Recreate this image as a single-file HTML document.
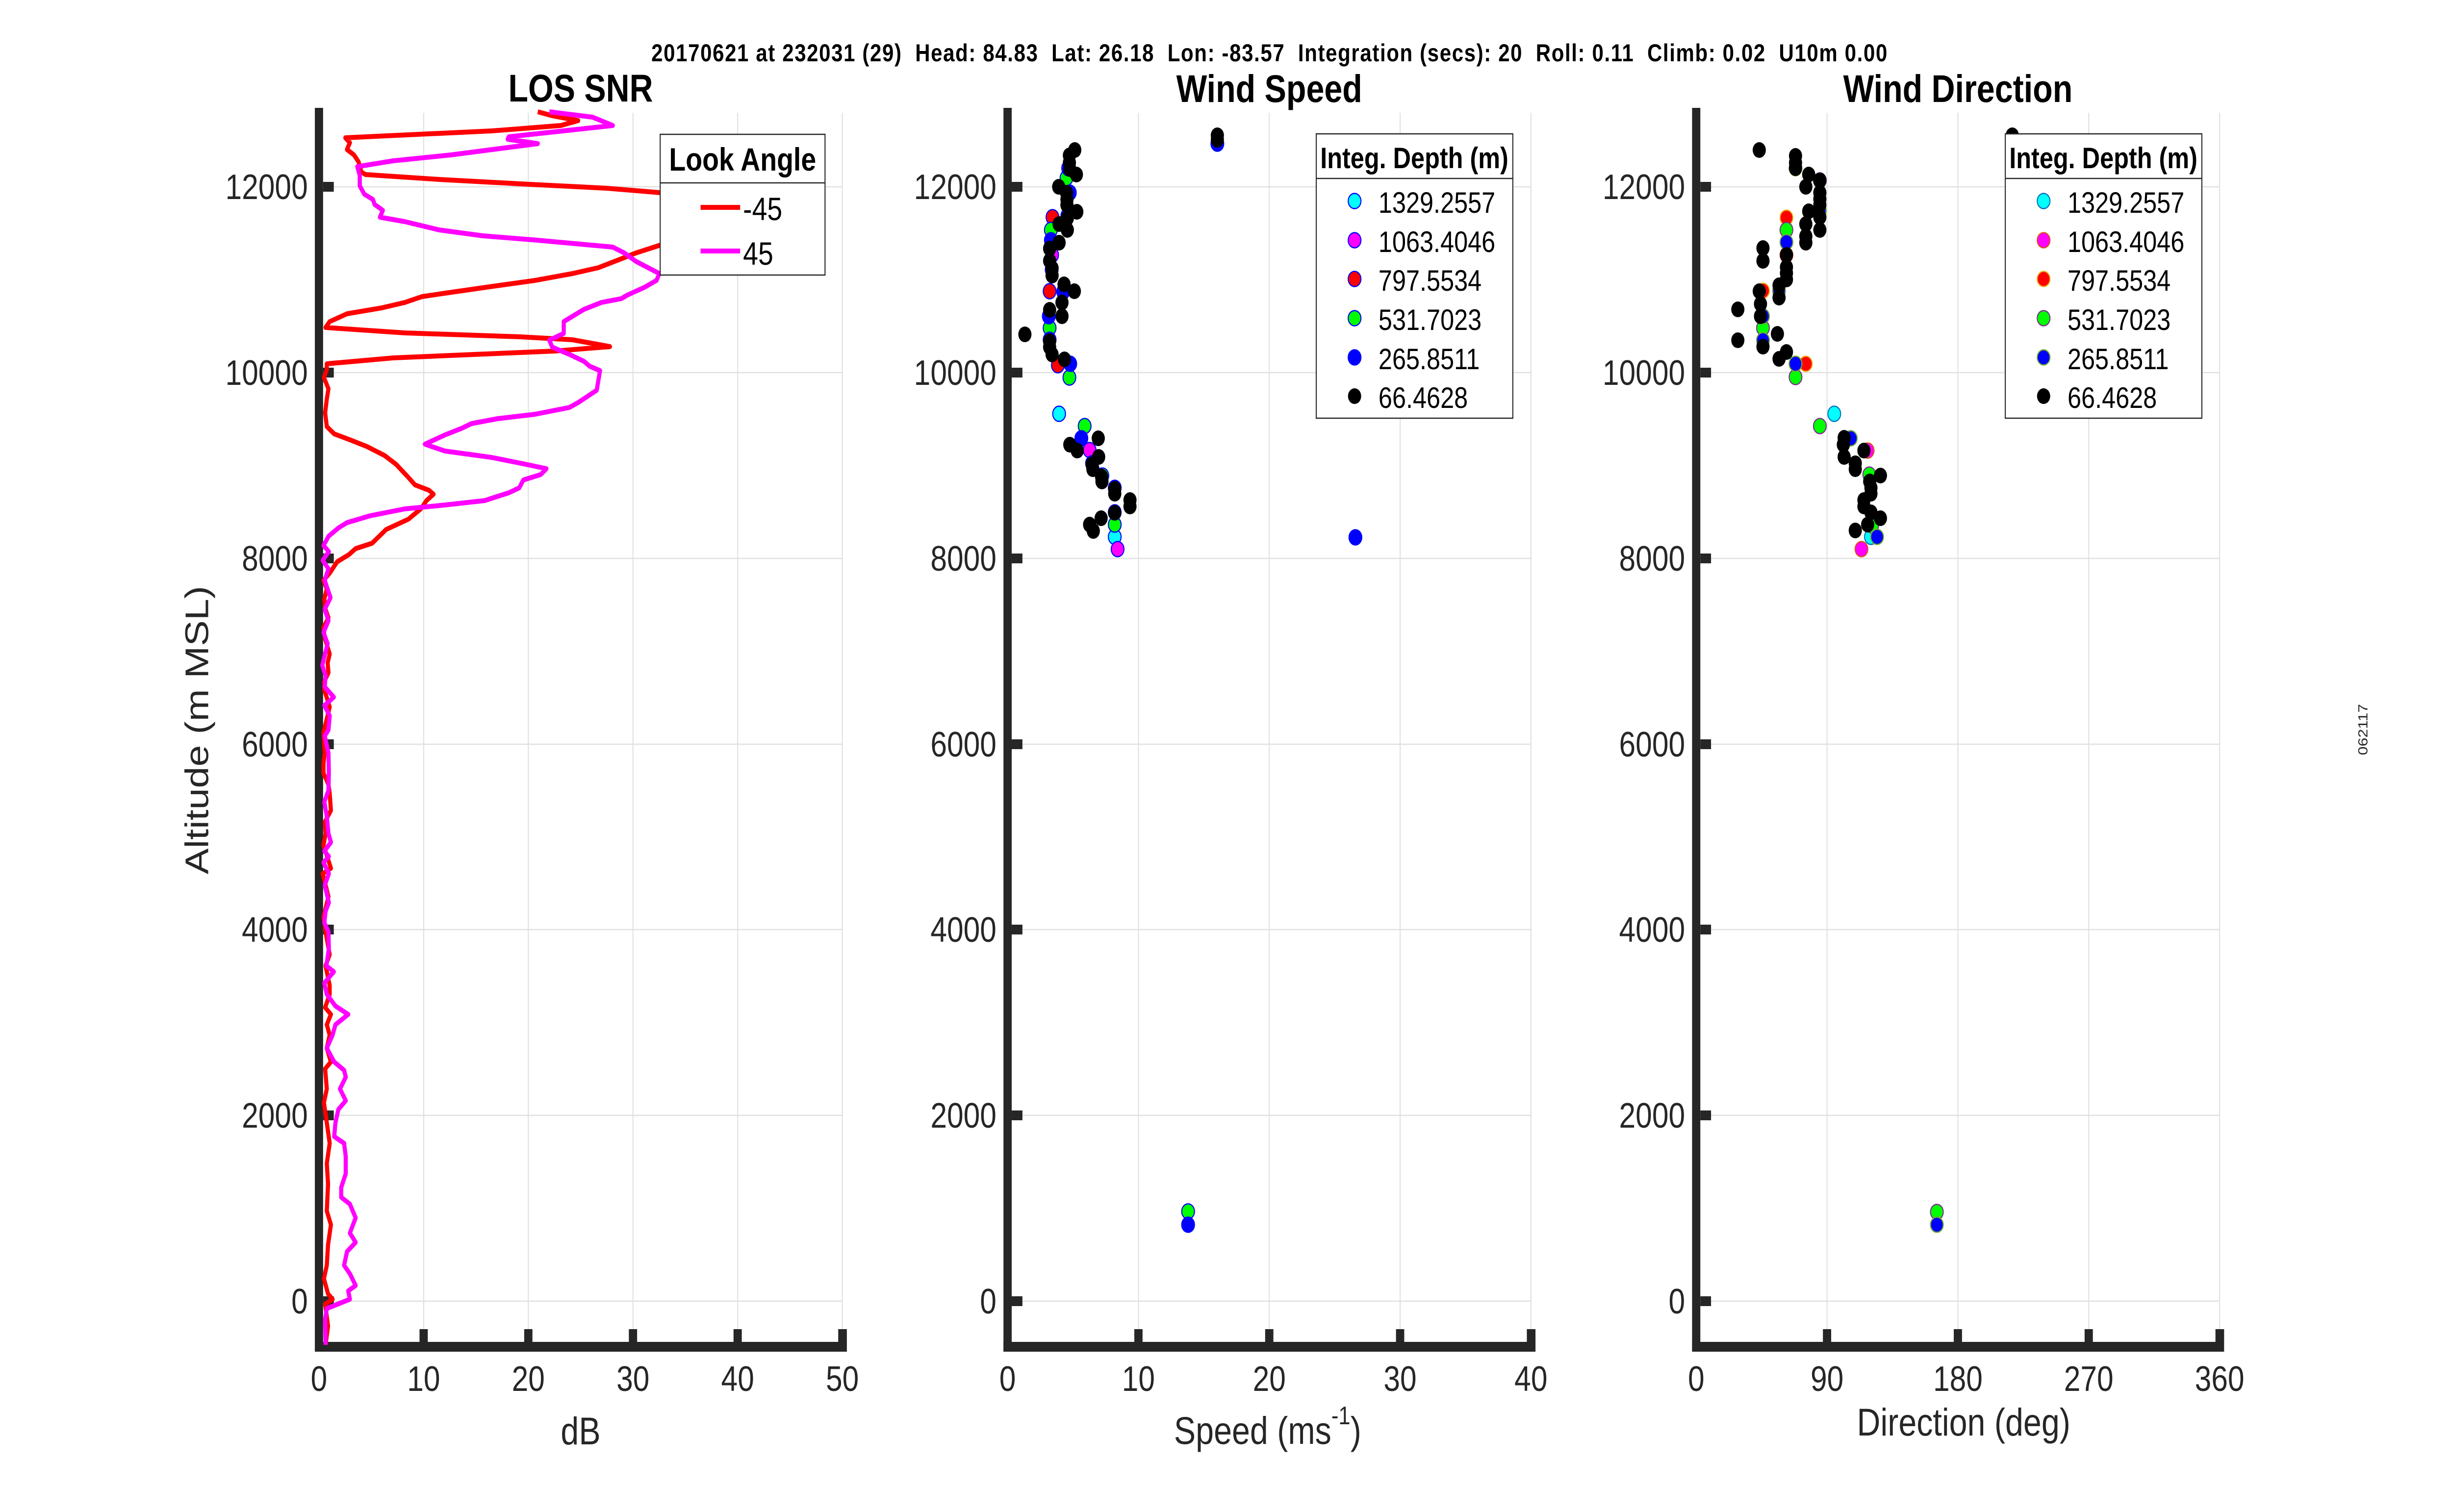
<!DOCTYPE html>
<html>
<head>
<meta charset="utf-8">
<style>
  html, body { margin:0; padding:0; background:#ffffff; overflow:hidden; width:100vw; height:100vh; }
  svg { display:block; width:100vw; height:100vh; }
  text { font-family: "Liberation Sans", Arial, sans-serif; fill:#262626; }
</style>
</head>
<body>
<svg viewBox="0 0 5950 3084" preserveAspectRatio="none" xmlns="http://www.w3.org/2000/svg">
<rect x="0" y="0" width="5950" height="3084" fill="#ffffff"/>

<!-- Header -->
<text x="3080" y="125" text-anchor="middle" font-size="50" font-weight="bold" style="fill:#000;white-space:pre" xml:space="preserve" textLength="2999" lengthAdjust="spacing">20170621 at 232031 (29)  Head: 84.83  Lat: 26.18  Lon: -83.57  Integration (secs): 20  Roll: 0.11  Climb: 0.02  U10m 0.00</text>

<!-- Titles -->
<text x="1409" y="207" text-anchor="middle" font-size="79" font-weight="bold" style="fill:#000">LOS SNR</text>
<text x="3080" y="208" text-anchor="middle" font-size="79" font-weight="bold" style="fill:#000">Wind Speed</text>
<text x="4751" y="208" text-anchor="middle" font-size="79" font-weight="bold" style="fill:#000">Wind Direction</text>

<!-- Grid lines -->
<g stroke="#e0e0e0" stroke-width="2.5" fill="none">
  <line x1="1028" y1="230" x2="1028" y2="2747"/>
  <line x1="1282" y1="230" x2="1282" y2="2747"/>
  <line x1="1536" y1="230" x2="1536" y2="2747"/>
  <line x1="1790" y1="230" x2="1790" y2="2747"/>
  <line x1="2044" y1="230" x2="2044" y2="2747"/>
  <line x1="774" y1="2654" x2="2044" y2="2654"/>
  <line x1="774" y1="2275" x2="2044" y2="2275"/>
  <line x1="774" y1="1896" x2="2044" y2="1896"/>
  <line x1="774" y1="1518" x2="2044" y2="1518"/>
  <line x1="774" y1="1139" x2="2044" y2="1139"/>
  <line x1="774" y1="760" x2="2044" y2="760"/>
  <line x1="774" y1="381" x2="2044" y2="381"/>
  <line x1="2762.5" y1="230" x2="2762.5" y2="2747"/>
  <line x1="3080" y1="230" x2="3080" y2="2747"/>
  <line x1="3397.5" y1="230" x2="3397.5" y2="2747"/>
  <line x1="3715" y1="230" x2="3715" y2="2747"/>
  <line x1="2445" y1="2654" x2="3715" y2="2654"/>
  <line x1="2445" y1="2275" x2="3715" y2="2275"/>
  <line x1="2445" y1="1896" x2="3715" y2="1896"/>
  <line x1="2445" y1="1518" x2="3715" y2="1518"/>
  <line x1="2445" y1="1139" x2="3715" y2="1139"/>
  <line x1="2445" y1="760" x2="3715" y2="760"/>
  <line x1="2445" y1="381" x2="3715" y2="381"/>
  <line x1="4433.5" y1="230" x2="4433.5" y2="2747"/>
  <line x1="4751" y1="230" x2="4751" y2="2747"/>
  <line x1="5068.5" y1="230" x2="5068.5" y2="2747"/>
  <line x1="5386" y1="230" x2="5386" y2="2747"/>
  <line x1="4116" y1="2654" x2="5386" y2="2654"/>
  <line x1="4116" y1="2275" x2="5386" y2="2275"/>
  <line x1="4116" y1="1896" x2="5386" y2="1896"/>
  <line x1="4116" y1="1518" x2="5386" y2="1518"/>
  <line x1="4116" y1="1139" x2="5386" y2="1139"/>
  <line x1="4116" y1="760" x2="5386" y2="760"/>
  <line x1="4116" y1="381" x2="5386" y2="381"/>
</g>

<!-- Axes lines and ticks -->
<g fill="#262626">
  <rect x="764" y="220" width="20" height="2537"/>
  <rect x="764" y="2737" width="1291" height="20"/>
  <rect x="1018" y="2711" width="20" height="26"/>
  <rect x="1272" y="2711" width="20" height="26"/>
  <rect x="1526" y="2711" width="20" height="26"/>
  <rect x="1780" y="2711" width="20" height="26"/>
  <rect x="2034" y="2711" width="21" height="26"/>
  <rect x="784" y="2644" width="26" height="20"/>
  <rect x="784" y="2265" width="26" height="20"/>
  <rect x="784" y="1886" width="26" height="20"/>
  <rect x="784" y="1508" width="26" height="20"/>
  <rect x="784" y="1129" width="26" height="20"/>
  <rect x="784" y="750" width="26" height="20"/>
  <rect x="784" y="371" width="26" height="20"/>
  <rect x="2435" y="220" width="20" height="2537"/>
  <rect x="2435" y="2737" width="1291" height="20"/>
  <rect x="2752.5" y="2711" width="20" height="26"/>
  <rect x="3070" y="2711" width="20" height="26"/>
  <rect x="3387.5" y="2711" width="20" height="26"/>
  <rect x="3705" y="2711" width="21" height="26"/>
  <rect x="2455" y="2644" width="26" height="20"/>
  <rect x="2455" y="2265" width="26" height="20"/>
  <rect x="2455" y="1886" width="26" height="20"/>
  <rect x="2455" y="1508" width="26" height="20"/>
  <rect x="2455" y="1129" width="26" height="20"/>
  <rect x="2455" y="750" width="26" height="20"/>
  <rect x="2455" y="371" width="26" height="20"/>
  <rect x="4106" y="220" width="20" height="2537"/>
  <rect x="4106" y="2737" width="1291" height="20"/>
  <rect x="4423.5" y="2711" width="20" height="26"/>
  <rect x="4741" y="2711" width="20" height="26"/>
  <rect x="5058.5" y="2711" width="20" height="26"/>
  <rect x="5376" y="2711" width="21" height="26"/>
  <rect x="4126" y="2644" width="26" height="20"/>
  <rect x="4126" y="2265" width="26" height="20"/>
  <rect x="4126" y="1886" width="26" height="20"/>
  <rect x="4126" y="1508" width="26" height="20"/>
  <rect x="4126" y="1129" width="26" height="20"/>
  <rect x="4126" y="750" width="26" height="20"/>
  <rect x="4126" y="371" width="26" height="20"/>
</g>

<!-- Y tick labels -->
<g font-size="72" text-anchor="end">
  <text x="747" y="2679">0</text>
  <text x="747" y="2300">2000</text>
  <text x="747" y="1921">4000</text>
  <text x="747" y="1543">6000</text>
  <text x="747" y="1164">8000</text>
  <text x="747" y="785">10000</text>
  <text x="747" y="406">12000</text>
  <text x="2418" y="2679">0</text>
  <text x="2418" y="2300">2000</text>
  <text x="2418" y="1921">4000</text>
  <text x="2418" y="1543">6000</text>
  <text x="2418" y="1164">8000</text>
  <text x="2418" y="785">10000</text>
  <text x="2418" y="406">12000</text>
  <text x="4089" y="2679">0</text>
  <text x="4089" y="2300">2000</text>
  <text x="4089" y="1921">4000</text>
  <text x="4089" y="1543">6000</text>
  <text x="4089" y="1164">8000</text>
  <text x="4089" y="785">10000</text>
  <text x="4089" y="406">12000</text>
</g>

<!-- X tick labels -->
<g font-size="72" text-anchor="middle">
  <text x="774" y="2837">0</text>
  <text x="1028" y="2837">10</text>
  <text x="1282" y="2837">20</text>
  <text x="1536" y="2837">30</text>
  <text x="1790" y="2837">40</text>
  <text x="2044" y="2837">50</text>
  <text x="2445" y="2837">0</text>
  <text x="2762.5" y="2837">10</text>
  <text x="3080" y="2837">20</text>
  <text x="3397.5" y="2837">30</text>
  <text x="3715" y="2837">40</text>
  <text x="4116" y="2837">0</text>
  <text x="4433.5" y="2837">90</text>
  <text x="4751" y="2837">180</text>
  <text x="5068.5" y="2837">270</text>
  <text x="5386" y="2837">360</text>
</g>

<!-- Axis labels -->
<text x="1409" y="2946" text-anchor="middle" font-size="79">dB</text>
<text x="3076" y="2945" text-anchor="middle" font-size="79">Speed (ms<tspan font-size="52" dy="-40">-1</tspan><tspan dy="40">)</tspan></text>
<text x="4765" y="2928" text-anchor="middle" font-size="79">Direction (deg)</text>
<text x="0" y="0" text-anchor="middle" font-size="79" transform="translate(505,1489) rotate(-90)">Altitude (m MSL)</text>

<!-- Small side label -->
<text x="0" y="0" text-anchor="middle" font-size="32" transform="translate(5745,1488) rotate(-90)">062117</text>

<!-- LOS SNR lines -->
<g fill="none" stroke-width="10" stroke-linejoin="round" stroke-linecap="butt">
<polyline stroke="#ff0000" points="1305,228 1340,236 1403,246 1361,256 1193,267 838,281 849,291 842,305 859,316 870,330 877,351 887,356 1066,366 1263,375 1473,384 1602,393 1760,402 1900,412 1960,430 1900,470 1750,490 1602,500 1543,516 1501,530 1452,546 1389,558 1298,572 1179,586 1080,598 1024,605 982,617 926,628 842,640 800,656 790,668 982,679 1263,687 1389,693 1480,707 1347,716 954,730 793,742 793,754 786,770 797,793 793,814 789,842 793,870 811,885 849,897 891,911 933,929 961,947 989,972 1007,989 1041,1000 1052,1008 1035,1021 1021,1038 991,1059 937,1080 903,1108 863,1119 847,1131 818,1146 800,1169 785,1184 793,1201 787,1222 790,1243 797,1260 785,1280 788,1301 800,1334 795,1352 797,1372 787,1390 787,1407 800,1442 792,1470 785,1495 788,1536 785,1557 785,1577 797,1600 800,1618 803,1653 788,1677 790,1700 785,1724 795,1750 803,1771 783,1782 790,1805 797,1829 785,1870 792,1910 800,1947 790,1970 800,2010 800,2028 789,2055 803,2069 793,2090 800,2111 793,2138 803,2166 789,2180 793,2221 786,2249 793,2290 800,2332 793,2373 796,2415 793,2470 803,2498 796,2539 793,2581 786,2608 796,2639 807,2650 789,2660 796,2705 790,2743"/>
<polyline stroke="#ff00ff" points="1333,228 1438,239 1487,256 1235,279 1232,284 1305,293 1094,316 954,328 867,340 873,358 873,379 884,396 905,407 909,417 929,429 922,443 982,452 1066,469 1172,481 1305,490 1487,504 1515,516 1543,533 1600,558 1593,572 1564,586 1522,602 1508,609 1459,617 1417,631 1368,656 1368,680 1333,694 1340,708 1382,723 1417,737 1431,747 1456,756 1448,796 1403,821 1382,831 1298,845 1207,854 1144,864 1122,873 1080,887 1031,906 1080,920 1193,933 1270,946 1326,956 1312,968 1270,979 1260,995 1235,1005 1176,1021 1080,1030 982,1038 898,1052 842,1066 821,1077 797,1094 785,1113 798,1125 783,1143 797,1160 788,1184 802,1219 788,1243 797,1266 785,1290 795,1313 788,1336 782,1357 790,1378 788,1401 810,1422 787,1439 800,1460 797,1489 788,1501 797,1536 798,1577 797,1612 787,1636 793,1665 797,1700 803,1718 787,1736 798,1747 785,1759 798,1782 788,1806 798,1841 790,1859 787,1882 797,1900 798,1935 792,1970 810,1982 787,2005 793,2028 814,2052 845,2069 814,2090 807,2111 793,2138 811,2166 835,2183 839,2197 825,2221 839,2245 821,2263 814,2290 811,2318 835,2332 839,2359 839,2394 828,2422 828,2442 849,2456 863,2484 849,2515 863,2534 842,2553 835,2581 849,2598 863,2622 845,2633 849,2650 793,2669 789,2691 790,2743"/>
</g>

<!-- Wind Speed scatter -->
<g stroke="#0000ff" stroke-width="2.5">
  <g fill="#00ffff">
    <circle cx="2570" cy="844" r="15.5"/>
    <circle cx="2705" cy="1095" r="15.5"/>
  </g>
  <g fill="#ff00ff">
    <circle cx="2553" cy="520" r="15.5"/>
    <circle cx="2644" cy="918" r="15.5"/>
    <circle cx="2712" cy="1120" r="15.5"/>
  </g>
  <g fill="#ff0000">
    <circle cx="2554" cy="443" r="15.5"/>
    <circle cx="2547" cy="594" r="15.5"/>
    <circle cx="2567" cy="745" r="15.5"/>
  </g>
  <g fill="#00ff00">
    <circle cx="2588" cy="363" r="15.5"/>
    <circle cx="2550" cy="469" r="15.5"/>
    <circle cx="2547" cy="669" r="15.5"/>
    <circle cx="2595" cy="770" r="15.5"/>
    <circle cx="2632" cy="869" r="15.5"/>
    <circle cx="2675" cy="970" r="15.5"/>
    <circle cx="2705" cy="1070" r="15.5"/>
    <circle cx="2883" cy="2471" r="15.5"/>
  </g>
  <g fill="#0000ff">
    <circle cx="2954" cy="293" r="15.5"/>
    <circle cx="2592" cy="343" r="15.5"/>
    <circle cx="2596" cy="393" r="15.5"/>
    <circle cx="2590" cy="440" r="15.5"/>
    <circle cx="2550" cy="490" r="15.5"/>
    <circle cx="2552" cy="550" r="15.5"/>
    <circle cx="2580" cy="595" r="15.5"/>
    <circle cx="2545" cy="645" r="15.5"/>
    <circle cx="2547" cy="693" r="15.5"/>
    <circle cx="2597" cy="742" r="15.5"/>
    <circle cx="2624" cy="894" r="15.5"/>
    <circle cx="2650" cy="945" r="15.5"/>
    <circle cx="2705" cy="995" r="15.5"/>
    <circle cx="2705" cy="1045" r="15.5"/>
    <circle cx="3289" cy="1096" r="15.5"/>
    <circle cx="2883" cy="2498" r="15.5"/>
  </g>
</g>
<g fill="#000000">
  <circle cx="2954" cy="276" r="16"/>
  <circle cx="2954" cy="285" r="16"/>
  <circle cx="2608" cy="306" r="16"/>
  <circle cx="2595" cy="317" r="16"/>
  <circle cx="2595" cy="332" r="16"/>
  <circle cx="2596" cy="345" r="16"/>
  <circle cx="2612" cy="356" r="16"/>
  <circle cx="2569" cy="381" r="16"/>
  <circle cx="2588" cy="393" r="16"/>
  <circle cx="2589" cy="407" r="16"/>
  <circle cx="2589" cy="418" r="16"/>
  <circle cx="2613" cy="432" r="16"/>
  <circle cx="2590" cy="445" r="16"/>
  <circle cx="2570" cy="457" r="16"/>
  <circle cx="2590" cy="469" r="16"/>
  <circle cx="2570" cy="495" r="16"/>
  <circle cx="2547" cy="507" r="16"/>
  <circle cx="2547" cy="532" r="16"/>
  <circle cx="2553" cy="547" r="16"/>
  <circle cx="2553" cy="562" r="16"/>
  <circle cx="2582" cy="580" r="16"/>
  <circle cx="2607" cy="594" r="16"/>
  <circle cx="2577" cy="617" r="16"/>
  <circle cx="2547" cy="632" r="16"/>
  <circle cx="2577" cy="645" r="16"/>
  <circle cx="2487" cy="682" r="16"/>
  <circle cx="2547" cy="696" r="16"/>
  <circle cx="2547" cy="708" r="16"/>
  <circle cx="2553" cy="723" r="16"/>
  <circle cx="2583" cy="733" r="16"/>
  <circle cx="2665" cy="894" r="16"/>
  <circle cx="2596" cy="907" r="16"/>
  <circle cx="2614" cy="919" r="16"/>
  <circle cx="2666" cy="932" r="16"/>
  <circle cx="2650" cy="947" r="16"/>
  <circle cx="2652" cy="957" r="16"/>
  <circle cx="2673" cy="972" r="16"/>
  <circle cx="2674" cy="982" r="16"/>
  <circle cx="2705" cy="997" r="16"/>
  <circle cx="2705" cy="1007" r="16"/>
  <circle cx="2742" cy="1020" r="16"/>
  <circle cx="2742" cy="1033" r="16"/>
  <circle cx="2705" cy="1046" r="16"/>
  <circle cx="2672" cy="1057" r="16"/>
  <circle cx="2644" cy="1070" r="16"/>
  <circle cx="2653" cy="1083" r="16"/>
</g>

<!-- Wind Direction scatter -->
<g stroke-width="2.5">
  <g fill="#00ffff" stroke="#0072bd">
    <circle cx="4451" cy="844" r="15.5"/>
    <circle cx="4540" cy="1095" r="15.5"/>
  </g>
  <g fill="#ff00ff" stroke="#d95319">
    <circle cx="4335" cy="520" r="15.5"/>
    <circle cx="4532" cy="919" r="15.5"/>
    <circle cx="4517" cy="1120" r="15.5"/>
  </g>
  <g fill="#ff0000" stroke="#edb120">
    <circle cx="4335" cy="444" r="15.5"/>
    <circle cx="4278" cy="593" r="15.5"/>
    <circle cx="4382" cy="742" r="15.5"/>
  </g>
  <g fill="#00ff00" stroke="#7e2f8e">
    <circle cx="4416" cy="368" r="15.5"/>
    <circle cx="4335" cy="469" r="15.5"/>
    <circle cx="4278" cy="669" r="15.5"/>
    <circle cx="4357" cy="769" r="15.5"/>
    <circle cx="4416" cy="869" r="15.5"/>
    <circle cx="4536" cy="968" r="15.5"/>
    <circle cx="4543" cy="1072" r="15.5"/>
    <circle cx="4700" cy="2472" r="15.5"/>
  </g>
  <g fill="#0000ff" stroke="#77ac30">
    <circle cx="4357" cy="343" r="15.5"/>
    <circle cx="4416" cy="430" r="15.5"/>
    <circle cx="4335" cy="494" r="15.5"/>
    <circle cx="4317" cy="593" r="15.5"/>
    <circle cx="4278" cy="645" r="15.5"/>
    <circle cx="4278" cy="694" r="15.5"/>
    <circle cx="4357" cy="742" r="15.5"/>
    <circle cx="4491" cy="894" r="15.5"/>
    <circle cx="4555" cy="1095" r="15.5"/>
    <circle cx="4700" cy="2498" r="15.5"/>
  </g>
</g>
<g fill="#000000">
  <circle cx="4883" cy="276" r="16"/>
  <circle cx="4269" cy="306" r="16"/>
  <circle cx="4357" cy="318" r="16"/>
  <circle cx="4357" cy="332" r="16"/>
  <circle cx="4357" cy="343" r="16"/>
  <circle cx="4389" cy="356" r="16"/>
  <circle cx="4416" cy="368" r="16"/>
  <circle cx="4382" cy="381" r="16"/>
  <circle cx="4416" cy="393" r="16"/>
  <circle cx="4416" cy="406" r="16"/>
  <circle cx="4416" cy="418" r="16"/>
  <circle cx="4389" cy="431" r="16"/>
  <circle cx="4416" cy="443" r="16"/>
  <circle cx="4382" cy="457" r="16"/>
  <circle cx="4416" cy="469" r="16"/>
  <circle cx="4382" cy="482" r="16"/>
  <circle cx="4382" cy="495" r="16"/>
  <circle cx="4278" cy="506" r="16"/>
  <circle cx="4335" cy="520" r="16"/>
  <circle cx="4278" cy="532" r="16"/>
  <circle cx="4335" cy="545" r="16"/>
  <circle cx="4335" cy="557" r="16"/>
  <circle cx="4335" cy="570" r="16"/>
  <circle cx="4317" cy="582" r="16"/>
  <circle cx="4269" cy="594" r="16"/>
  <circle cx="4317" cy="607" r="16"/>
  <circle cx="4272" cy="620" r="16"/>
  <circle cx="4217" cy="631" r="16"/>
  <circle cx="4272" cy="645" r="16"/>
  <circle cx="4313" cy="681" r="16"/>
  <circle cx="4217" cy="694" r="16"/>
  <circle cx="4278" cy="707" r="16"/>
  <circle cx="4335" cy="718" r="16"/>
  <circle cx="4317" cy="732" r="16"/>
  <circle cx="4475" cy="893" r="16"/>
  <circle cx="4473" cy="907" r="16"/>
  <circle cx="4523" cy="919" r="16"/>
  <circle cx="4475" cy="932" r="16"/>
  <circle cx="4502" cy="945" r="16"/>
  <circle cx="4502" cy="957" r="16"/>
  <circle cx="4563" cy="970" r="16"/>
  <circle cx="4537" cy="982" r="16"/>
  <circle cx="4540" cy="995" r="16"/>
  <circle cx="4540" cy="1007" r="16"/>
  <circle cx="4523" cy="1020" r="16"/>
  <circle cx="4523" cy="1033" r="16"/>
  <circle cx="4540" cy="1045" r="16"/>
  <circle cx="4563" cy="1057" r="16"/>
  <circle cx="4532" cy="1070" r="16"/>
  <circle cx="4502" cy="1082" r="16"/>
</g>

<!-- Left legend -->
<rect x="1602" y="274" width="400" height="287" fill="#ffffff" stroke="#262626" stroke-width="2.5"/>
<line x1="1602" y1="373" x2="2002" y2="373" stroke="#262626" stroke-width="2.5"/>
<text x="1802" y="348" text-anchor="middle" font-size="66" font-weight="bold" style="fill:#000">Look Angle</text>
<line x1="1700" y1="423" x2="1796" y2="423" stroke="#ff0000" stroke-width="10"/>
<line x1="1700" y1="512" x2="1796" y2="512" stroke="#ff00ff" stroke-width="10"/>
<text x="1803" y="449" font-size="66" style="fill:#000">-45</text>
<text x="1803" y="540" font-size="66" style="fill:#000">45</text>

<!-- Middle legend -->
<rect x="3194" y="273" width="477" height="580" fill="#ffffff" stroke="#262626" stroke-width="2.5"/>
<line x1="3194" y1="364" x2="3671" y2="364" stroke="#262626" stroke-width="2.5"/>
<text x="3432" y="343" text-anchor="middle" font-size="60" font-weight="bold" style="fill:#000">Integ. Depth (m)</text>
<g stroke="#0000ff" stroke-width="2.5">
  <circle cx="3287" cy="410" r="15.5" fill="#00ffff"/>
  <circle cx="3287" cy="490" r="15.5" fill="#ff00ff"/>
  <circle cx="3287" cy="569" r="15.5" fill="#ff0000"/>
  <circle cx="3287" cy="649" r="15.5" fill="#00ff00"/>
  <circle cx="3287" cy="729" r="15.5" fill="#0000ff"/>
</g>
<circle cx="3287" cy="808" r="16" fill="#000000"/>
<g font-size="60">
  <text x="3345" y="434" style="fill:#000">1329.2557</text>
  <text x="3345" y="514" style="fill:#000">1063.4046</text>
  <text x="3345" y="593" style="fill:#000">797.5534</text>
  <text x="3345" y="673" style="fill:#000">531.7023</text>
  <text x="3345" y="753" style="fill:#000">265.8511</text>
  <text x="3345" y="832" style="fill:#000">66.4628</text>
</g>

<!-- Right legend -->
<rect x="4866" y="273" width="477" height="580" fill="#ffffff" stroke="#262626" stroke-width="2.5"/>
<line x1="4866" y1="364" x2="5343" y2="364" stroke="#262626" stroke-width="2.5"/>
<text x="5104" y="343" text-anchor="middle" font-size="60" font-weight="bold" style="fill:#000">Integ. Depth (m)</text>
<g stroke-width="2.5">
  <circle cx="4959" cy="410" r="15.5" fill="#00ffff" stroke="#0072bd"/>
  <circle cx="4959" cy="490" r="15.5" fill="#ff00ff" stroke="#d95319"/>
  <circle cx="4959" cy="569" r="15.5" fill="#ff0000" stroke="#edb120"/>
  <circle cx="4959" cy="649" r="15.5" fill="#00ff00" stroke="#7e2f8e"/>
  <circle cx="4959" cy="729" r="15.5" fill="#0000ff" stroke="#77ac30"/>
</g>
<circle cx="4959" cy="808" r="16" fill="#000000"/>
<g font-size="60">
  <text x="5017" y="434" style="fill:#000">1329.2557</text>
  <text x="5017" y="514" style="fill:#000">1063.4046</text>
  <text x="5017" y="593" style="fill:#000">797.5534</text>
  <text x="5017" y="673" style="fill:#000">531.7023</text>
  <text x="5017" y="753" style="fill:#000">265.8511</text>
  <text x="5017" y="832" style="fill:#000">66.4628</text>
</g>

</svg>
</body>
</html>
